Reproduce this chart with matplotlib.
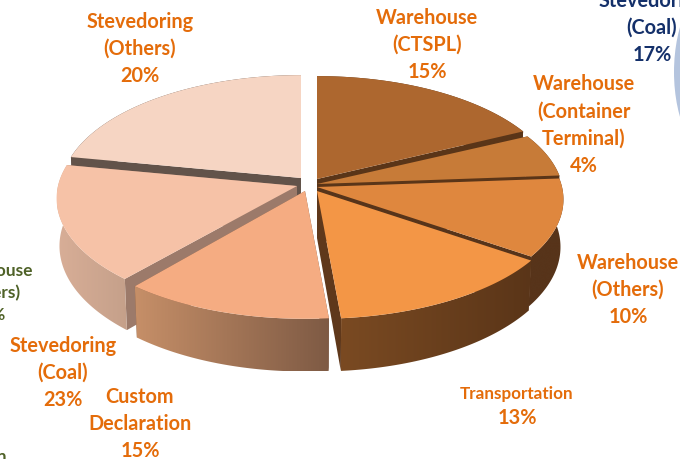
import numpy as np
import matplotlib
matplotlib.use("Agg")
import matplotlib.pyplot as plt
import matplotlib.colors as mcolors
from matplotlib.patches import Ellipse, Polygon

# share of the disc each slice covers, as drawn (clockwise from 12 o'clock)
shares = [17.8, 6.0, 10.9, 13.9, 12.5, 16.9, 22.0]
top_colors = ["#AD672F", "#C77B38", "#DF873E", "#F39646", "#F5AC82", "#F6C2A7", "#F6D5C3"]
wall_colors = ["#5A3518", "#5A3518", "#57341A", "#5F381B", "#7E5A44", "#9C7A6A", "#62534A"]
rim_left = ["#5A3518", "#5A3518", "#57341A", "#7A4A22", "#C68F68", "#D8AE97", "#62534A"]
rim_right = ["#5A3518", "#5A3518", "#57341A", "#5A3518", "#7E5A44", "#C5A08A", "#62534A"]

labels = ["Warehouse\n(CTSPL)\n15%", "Warehouse\n(Container\nTerminal)\n4%", "Warehouse\n(Others)\n10%",
          "Custom\nDeclaration\n15%", "Stevedoring\n(Coal)\n23%", "Stevedoring\n(Others)\n20%"]

# layout, in image pixels
apex = [(317, 179), (317, 184), (317, 187), (317, 191), (305, 191), (297, 186), (301, 178)]
radius_x = [240, 245, 245, 245, 243, 239, 239]
start_trim = [0, 0, 0, 0, 0, 1.5, 0]  # degrees, widens the gap before a slice
label_pos = [(427, 45), (584, 125), (628, 290), (140, 424), (63, 373), (140, 49)]
RY, K, DEPTH = 114, 0.108, 47
ORANGE = "#E46C0A"
SIZE = 14.3

plt.rcParams["font.family"] = ["Lato", "DejaVu Sans"]
fig = plt.figure(figsize=(6.8, 4.59), dpi=100)
ax = fig.add_axes([0, 0, 1, 1])
ax.axis("off")


def project(i, theta, r=1.0, z=0.0):
    x, y = r * np.cos(theta), r * np.sin(theta)
    w = 1 + K * y
    shrink = 1 - 0.012 * z / DEPTH
    return apex[i][0] + radius_x[i] * x / w * shrink, apex[i][1] - RY * y / w + z / w


edges = 90 - np.concatenate([[0], np.cumsum(shares)]) * 3.6


def draw_slice(i, zbase):
    t = np.radians(np.linspace(edges[i] - start_trim[i], edges[i + 1], 80))
    # side walls from the centre out to the rim
    for a in (t[0], t[-1]):
        quad = [project(i, a, 0), project(i, a, 1), project(i, a, 1, DEPTH), project(i, a, 0, DEPTH)]
        ax.fill(*zip(*quad), color=wall_colors[i], lw=0, zorder=zbase)
    # outer wall with its left to right gradient
    outline = [project(i, a) for a in t] + [project(i, a, 1, DEPTH) for a in t[::-1]]
    xs = [p[0] for p in outline]
    ys = [p[1] for p in outline]
    cmap = mcolors.LinearSegmentedColormap.from_list("rim", [rim_left[i], rim_right[i]])
    im = ax.imshow(np.linspace(0, 1, 256)[None, :], cmap=cmap, aspect="auto", zorder=zbase + 0.1,
                   extent=[min(xs), max(xs), max(ys), min(ys)])
    clip = Polygon(outline, transform=ax.transData, fc="none", lw=0)
    ax.add_patch(clip)
    im.set_clip_path(clip)
    # top face
    top = [project(i, a) for a in t] + [project(i, t[0], 0)]
    ax.fill(*zip(*top), color=top_colors[i], lw=0, zorder=zbase + 0.2)


# back slices first so the front ones cover them
for z, i in enumerate([6, 0, 1, 5, 2, 3, 4]):
    draw_slice(i, z + 1)

for txt, (lx, ly) in zip(labels, label_pos):
    ax.text(lx, ly, txt, color=ORANGE, fontsize=SIZE, fontweight="bold", ha="center", va="center",
            linespacing=1.46, zorder=20)
ax.text(517, 394, "Transportation", color=ORANGE, fontsize=12.3, fontweight="bold", ha="center", va="center", zorder=20)
ax.text(517, 418, "13%", color=ORANGE, fontsize=SIZE, fontweight="bold", ha="center", va="center", zorder=20)

# bits of the neighbouring charts, cut by the image edge
ax.add_patch(Ellipse((720, 72), 92, 182, color="#B4C4DE", lw=0))
ax.text(652, 28, "Stevedoring\n(Coal)\n17%", color="#14306A", fontsize=SIZE, fontweight="bold",
        ha="center", va="center", linespacing=1.46, zorder=20)
ax.text(-11, 293, "Warehouse\n(Others)\n10%", color="#4F6228", fontsize=12.5, fontweight="bold",
        ha="center", va="center", linespacing=1.48)
ax.text(7, 462, "Transportation", color="#4F6228", fontsize=12.5, fontweight="bold", ha="right", va="baseline")

ax.set_xlim(0, 680)
ax.set_ylim(459, 0)
fig.savefig("out.png", dpi=100)
